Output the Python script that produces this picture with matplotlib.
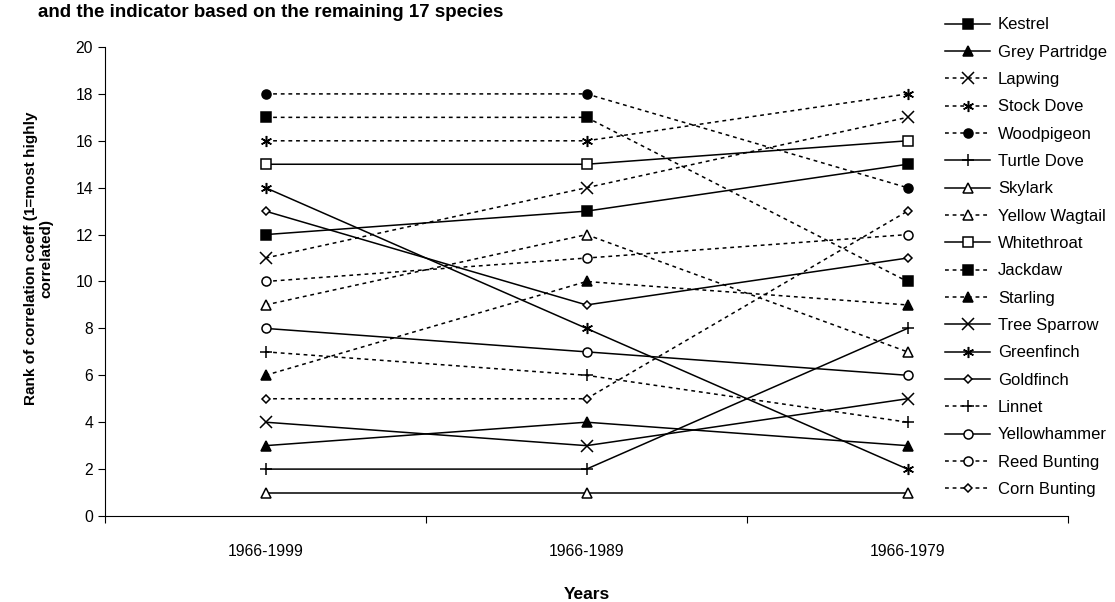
import matplotlib.pyplot as plt

plt.rcParams['font.family'] = ['Liberation Sans', 'DejaVu Sans']

periods = ['1966-1999', '1966-1989', '1966-1979']

species = ['Kestrel', 'Grey Partridge', 'Lapwing', 'Stock Dove', 'Woodpigeon',
           'Turtle Dove', 'Skylark', 'Yellow Wagtail', 'Whitethroat', 'Jackdaw',
           'Starling', 'Tree Sparrow', 'Greenfinch', 'Goldfinch', 'Linnet',
           'Yellowhammer', 'Reed Bunting', 'Corn Bunting']

kestrel = [12, 13, 15]
grey_partridge = [3, 4, 3]
lapwing = [11, 14, 17]
stock_dove = [16, 16, 18]
woodpigeon = [18, 18, 14]
turtle_dove = [2, 2, 8]
skylark = [1, 1, 1]
yellow_wagtail = [9, 12, 7]
whitethroat = [15, 15, 16]
jackdaw = [17, 17, 10]
starling = [6, 10, 9]
tree_sparrow = [4, 3, 5]
greenfinch = [14, 8, 2]
goldfinch = [13, 9, 11]
linnet = [7, 6, 4]
yellowhammer = [8, 7, 6]
reed_bunting = [10, 11, 12]
corn_bunting = [5, 5, 13]

ranks = [kestrel, grey_partridge, lapwing, stock_dove, woodpigeon, turtle_dove,
         skylark, yellow_wagtail, whitethroat, jackdaw, starling, tree_sparrow,
         greenfinch, goldfinch, linnet, yellowhammer, reed_bunting, corn_bunting]

# (marker, filled, dotted)
styles = [('s', True, False), ('^', True, False), ('x', True, True),
          ((6, 2, 0), True, True), ('o', True, True), ('+', True, False),
          ('^', False, False), ('^', False, True), ('s', False, False),
          ('s', True, True), ('^', True, True), ('x', True, False),
          ((6, 2, 0), True, False), ('D', False, False), ('+', True, True),
          ('o', False, False), ('o', False, True), ('D', False, True)]

fig = plt.figure(figsize=(11.15, 6.02), dpi=100)
ax = fig.add_axes([105 / 1115, 1 - 516 / 602, 963 / 1115, 469 / 602])

x = list(range(len(periods)))
for name, r, (m, filled, dotted) in zip(species, ranks, styles):
    ms = 6.5
    if m == 'D':
        ms = 4.5
    elif m in ('x', '+') or isinstance(m, tuple):
        ms = 8
    ax.plot(x, r, color='black', linewidth=1.1,
            linestyle=(0, (2.5, 2.5)) if dotted else '-',
            marker=m, markersize=ms, markeredgewidth=1.1,
            markerfacecolor='black' if filled else 'white',
            markeredgecolor='black', label=name)

ax.set_xlim(-0.5, 2.5)
ax.set_ylim(0, 20)
ax.set_yticks(range(0, 21, 2))
ax.set_xticks([-0.5, 0.5, 1.5, 2.5])
ax.set_xticklabels([])
ax.set_xticks(x, minor=True)
ax.set_xticklabels(periods, minor=True)
ax.tick_params(axis='x', which='minor', length=0, pad=20, labelsize=11.3)
ax.tick_params(axis='x', which='major', length=5, direction='out')
ax.tick_params(axis='y', length=5, direction='out', labelsize=11.3)
for s in ['top', 'right']:
    ax.spines[s].set_visible(False)

ax.set_xlabel('Years', fontsize=12.5, fontweight='bold', labelpad=20)
ax.set_ylabel('Rank of correlation coeff (1=most highly\ncorrelated)',
              fontsize=11, fontweight='bold', linespacing=1.1)
ax.yaxis.set_label_coords(-0.054, 0.55)

fig.text(38 / 1115, 1 - 17 / 602,
         'and the indicator based on the remaining 17 species',
         fontsize=13.5, fontweight='bold', va='baseline', ha='left')

fig.legend(loc='upper left', bbox_to_anchor=(937 / 1115, 1 - 9 / 602),
           frameon=False, fontsize=12, handlelength=2.7, labelspacing=0.74,
           handletextpad=0.45, borderpad=0)

fig.savefig('out.png', dpi=100)
